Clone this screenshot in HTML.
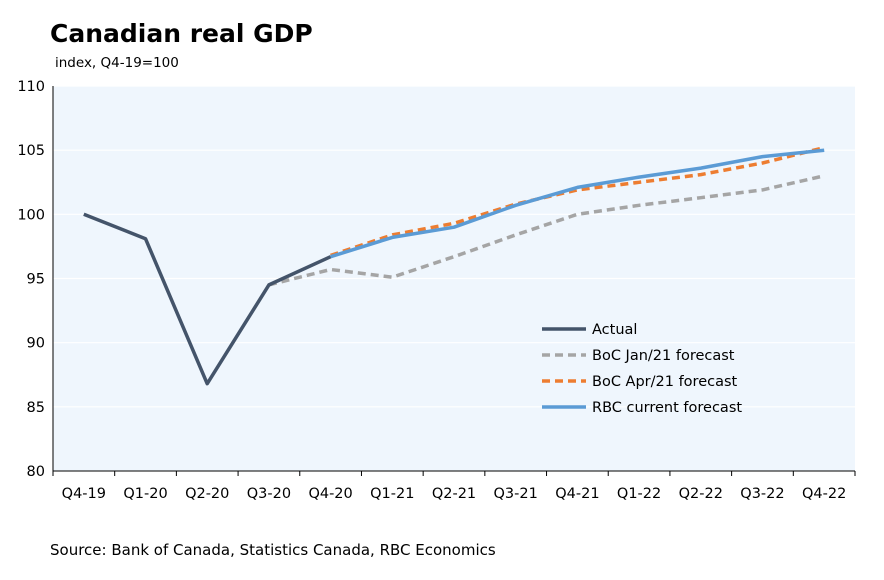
<!DOCTYPE html>
<html><head><meta charset="utf-8">
<style>
body{margin:0;background:#fff;}
svg{display:block;font-family:"DejaVu Sans","Liberation Sans",sans-serif;}
</style></head>
<body>
<svg id="chart" width="884" height="580">
<text x="50" y="42" font-size="25" font-weight="bold" fill="#000">Canadian real GDP</text>
<text x="55" y="67" font-size="13.5" fill="#000">index, Q4-19=100</text>
<rect x="53" y="86" width="802" height="385" fill="#EFF6FD"/>
<g id="grid"></g><g id="axes"></g><g id="series"></g>
<g font-size="14.5">
<line x1="542" y1="329" x2="586" y2="329" stroke="#44546A" stroke-width="3.5"/>
<text x="592" y="334">Actual</text>
<line x1="542" y1="355" x2="586" y2="355" stroke="#A5A5A5" stroke-width="3.5" stroke-dasharray="8,5"/>
<text x="592" y="360">BoC Jan/21 forecast</text>
<line x1="542" y1="381" x2="586" y2="381" stroke="#ED7D31" stroke-width="3.5" stroke-dasharray="8,5"/>
<text x="592" y="386">BoC Apr/21 forecast</text>
<line x1="542" y1="407" x2="586" y2="407" stroke="#5B9BD5" stroke-width="3.5"/>
<text x="592" y="412">RBC current forecast</text>
</g>
<text x="50" y="555" font-size="15" fill="#000">Source: Bank of Canada, Statistics Canada, RBC Economics</text>
</svg>
<script>
const categories=["Q4-19","Q1-20","Q2-20","Q3-20","Q4-20","Q1-21","Q2-21","Q3-21","Q4-21","Q1-22","Q2-22","Q3-22","Q4-22"];
const yTicks=[80,85,90,95,100,105,110];
const actual=[100,98.1,86.8,94.5,96.7,null,null,null,null,null,null,null,null];
const bocJan=[null,null,null,94.5,95.7,95.1,96.7,98.4,100.0,100.7,101.3,101.9,103.0];
const bocApr=[null,null,null,null,96.8,98.4,99.3,100.8,101.9,102.5,103.1,104.0,105.2];
const rbc=[null,null,null,null,96.7,98.2,99.0,100.7,102.1,102.9,103.6,104.5,105.0];

const NS="http://www.w3.org/2000/svg";
const L=53,R=855,T=86,B=471,ymin=80,ymax=110;
const bw=(R-L)/categories.length;
const xs=i=>L+bw*(i+0.5);
const ys=v=>B-(v-ymin)/(ymax-ymin)*(B-T);
function mk(tag,attrs,parent){const e=document.createElementNS(NS,tag);for(const k in attrs)e.setAttribute(k,attrs[k]);parent.appendChild(e);return e;}
const grid=document.getElementById('grid'),axes=document.getElementById('axes'),ser=document.getElementById('series');
yTicks.forEach(v=>{
  if(v>ymin){const g=mk('line',{x1:L,x2:R,y1:ys(v),y2:ys(v),stroke:'#fff','stroke-width':1.2},grid);
  
  }
  const t=mk('text',{x:L-8,y:ys(v)+5,'text-anchor':'end','font-size':14.5},axes);t.textContent=v;
  
  
});
const xa=mk('line',{x1:L,x2:R,y1:B,y2:B,stroke:'#000','stroke-width':1},axes);


const ya=mk('line',{x1:L,x2:L,y1:T,y2:B,stroke:'#000','stroke-width':1},axes);


for(let i=0;i<=categories.length;i++){mk('line',{x1:L+bw*i,x2:L+bw*i,y1:B,y2:B+5,stroke:'#000'},axes);}
categories.forEach((c,i)=>{const t=mk('text',{x:xs(i),y:B+27,'text-anchor':'middle','font-size':14.5},axes);t.textContent=c;
  
  });
function line(data,color,dash,name){
  const pts=[];data.forEach((v,i)=>{if(v!==null)pts.push(xs(i).toFixed(1)+','+ys(v).toFixed(1));});
  const p=mk('polyline',{points:pts.join(' '),fill:'none',stroke:color,'stroke-width':3.5,'stroke-linejoin':'round'},ser);
  if(dash)p.setAttribute('stroke-dasharray',dash);
  
  
}
line(bocJan,'#A5A5A5','8,5','series-boc-jan');
line(actual,'#44546A',null,'series-actual');
line(bocApr,'#ED7D31','8,5','series-boc-apr');
line(rbc,'#5B9BD5',null,'series-rbc');
</script>
</body></html>
